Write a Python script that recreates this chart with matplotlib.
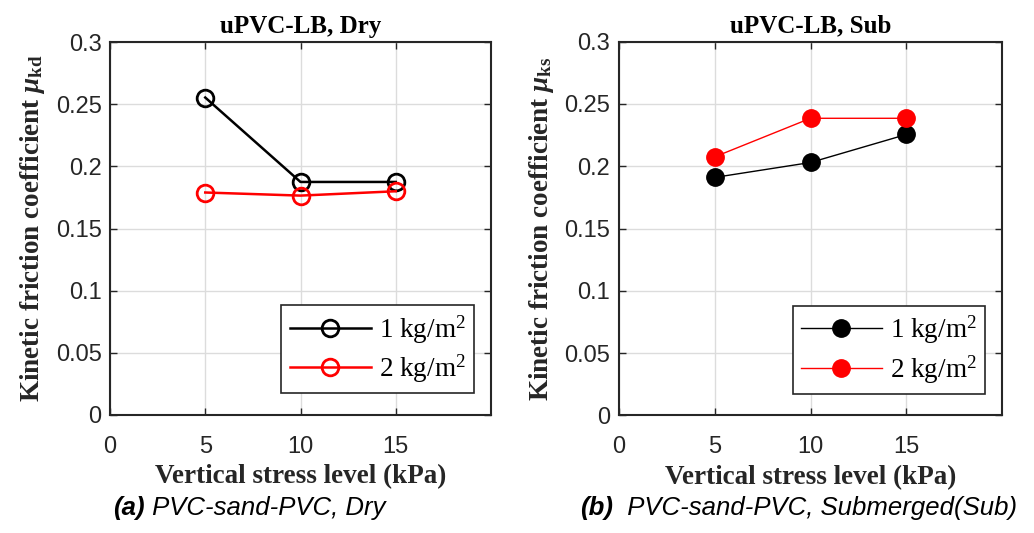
import matplotlib
matplotlib.use("Agg")
import matplotlib.pyplot as plt

plt.rcParams['mathtext.fontset'] = 'custom'
plt.rcParams['mathtext.rm'] = 'Liberation Serif'
plt.rcParams['mathtext.it'] = 'Liberation Serif:italic:bold'
plt.rcParams['mathtext.bf'] = 'Liberation Serif:bold'

stress = [5, 10, 15]
dry_1kg = [0.2555, 0.1875, 0.1875]
dry_2kg = [0.179, 0.1765, 0.180]
sub_1kg = [0.191, 0.203, 0.2255]
sub_2kg = [0.2075, 0.2385, 0.2385]
legend_labels = ['1 kg/m$^2$', '2 kg/m$^2$']
titles = ['uPVC-LB, Dry', 'uPVC-LB, Sub']
ylabels = [r'Kinetic friction coefficient $\mu_{\mathbf{kd}}$',
           r'Kinetic friction coefficient $\mu_{\mathbf{ks}}$']
captions = [('(a)', ' PVC-sand-PVC, Dry'), ('(b)', '  PVC-sand-PVC, Submerged(Sub)')]
xticks = [0, 5, 10, 15]
yticks = [0, 0.05, 0.1, 0.15, 0.2, 0.25, 0.3]
ytick_labels = ['0', '0.05', '0.1', '0.15', '0.2', '0.25', '0.3']

fig = plt.figure(figsize=(10.34, 5.33), dpi=100)
W, H = 1034, 533
ax1 = fig.add_axes([110 / W, 1 - 414.7 / H, 381 / W, 372.4 / H])
ax2 = fig.add_axes([618.7 / W, 1 - 415.3 / H, 383.6 / W, 373.6 / H])

serif = 'Liberation Serif'
sans = 'Liberation Sans'

def style(ax, idx):
    ax.set_xlim(0, 20)
    ax.set_ylim(0, 0.3)
    ax.set_xticks(xticks)
    ax.set_yticks(yticks)
    ax.set_yticklabels(ytick_labels)
    ax.grid(True, color='#dcdcdc', linewidth=1.0)
    ax.set_axisbelow(True)
    ax.tick_params(direction='in', length=5, width=1, top=True, right=True,
                   labelsize=17, pad=6, colors='#262626')
    ax.tick_params(axis='x', pad=15)
    for lab in ax.get_xticklabels() + ax.get_yticklabels():
        lab.set_fontfamily(sans)
    for sp in ax.spines.values():
        sp.set_linewidth(1.5)
        sp.set_color('#262626')
    ax.set_title(titles[idx], fontfamily=serif, fontweight='bold', fontsize=18, pad=7)
    ax.set_xlabel('Vertical stress level (kPa)', fontfamily=serif, fontweight='bold',
                  fontsize=19.5, labelpad=5, color='#262626')
    ax.set_ylabel(ylabels[idx], fontfamily=serif, fontweight='bold', fontsize=19.5,
                  labelpad=6, color='#262626')

ax1.plot(stress, dry_1kg, '-o', color='black', lw=1.8, ms=12, mfc='none', mew=2,
         label=legend_labels[0])
ax1.plot(stress, dry_2kg, '-o', color='red', lw=1.8, ms=12, mfc='none', mew=2,
         label=legend_labels[1])
ax2.plot(stress, sub_1kg, '-o', color='black', lw=1.0, ms=12.5, mfc='black', mec='black',
         label=legend_labels[0])
ax2.plot(stress, sub_2kg, '-o', color='red', lw=1.0, ms=12.5, mfc='red', mec='red',
         label=legend_labels[1])

for i, ax in enumerate([ax1, ax2]):
    style(ax, i)
    leg = ax.legend(loc='lower right', bbox_to_anchor=(0.955, 0.058),
                    prop={'family': serif, 'size': 19.5}, fancybox=False,
                    edgecolor='#262626', framealpha=1, handlelength=3.0,
                    borderpad=0.3, labelspacing=0.25, handletextpad=0.3,
                    borderaxespad=0.0)
    leg.get_frame().set_linewidth(1.2)

# captions
cx = [113 / W, 580 / W]
for i, (a, b) in enumerate(captions):
    t = fig.text(cx[i], 1 - 508 / H, a, fontfamily=sans, fontstyle='italic',
                 fontweight='bold', fontsize=18.5, va='center', ha='left')
    fig.canvas.draw()
    bb = t.get_window_extent()
    fig.text(bb.x1 / W, 1 - 508 / H, b, fontfamily=sans, fontstyle='italic',
             fontsize=18.5, va='center', ha='left')

fig.savefig('out.png', dpi=100)
